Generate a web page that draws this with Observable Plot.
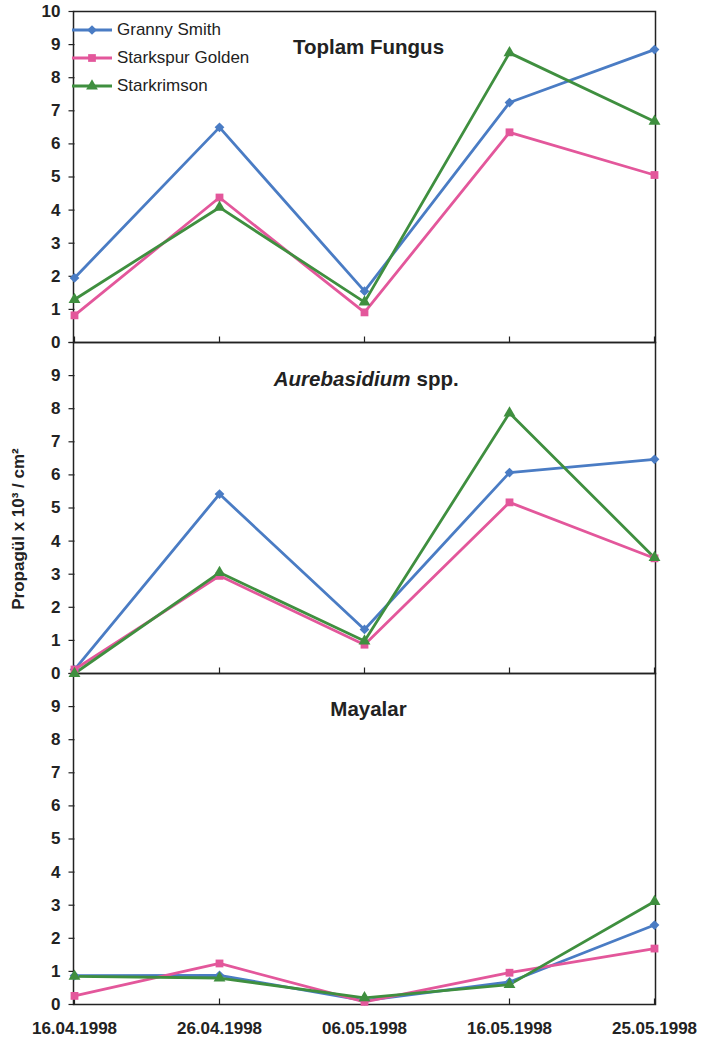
<!DOCTYPE html>
<html>
<head>
<meta charset="utf-8">
<script src="https://cdn.jsdelivr.net/npm/d3@7"></script>
<script src="https://cdn.jsdelivr.net/npm/@observablehq/plot@0.6"></script>
<style>
  body { margin: 0; background: #fff; font-family: "Liberation Sans", Arial, sans-serif; }
  #wrap { position: relative; width: 708px; height: 1042px; }
  #legend { position: absolute; left: 60px; top: 16px; font-size: 17px; color: #222; }
  #legend .row { display: flex; align-items: center; height: 28px; }
  #legend svg { display: block; margin-right: 2px; }
</style>
</head>
<body>
<div id="wrap"><div id="legend"></div></div>
<script>
// ---- data ----
const dates = ["16.04.1998", "26.04.1998", "06.05.1998", "16.05.1998", "25.05.1998"];
const cultivars = ["Granny Smith", "Starkspur Golden", "Starkrimson"];
const panels = ["Toplam Fungus", "Aurebasidium spp.", "Mayalar"];

const toplamGranny  = [1.95, 6.50, 1.55, 7.25, 8.85];
const toplamGolden  = [0.82, 4.38, 0.91, 6.35, 5.06];
const toplamKrimson = [1.30, 4.08, 1.22, 8.75, 6.68];

const aureGranny  = [0.12, 5.42, 1.33, 6.07, 6.47];
const aureGolden  = [0.12, 2.95, 0.87, 5.17, 3.48];
const aureKrimson = [0.00, 3.05, 0.98, 7.87, 3.50];

const mayaGranny  = [0.87, 0.88, 0.12, 0.68, 2.40];
const mayaGolden  = [0.26, 1.24, 0.08, 0.96, 1.69];
const mayaKrimson = [0.85, 0.80, 0.20, 0.60, 3.11];

const yTicksTop   = [0, 1, 2, 3, 4, 5, 6, 7, 8, 9, 10];
const yTicksLower = [0, 1, 2, 3, 4, 5, 6, 7, 8, 9];

// ---- styles ----
const colors = ["#4a7cc4", "#e3579b", "#3f8f3f"];
const symbolNames = ["diamond2", "square", "triangle"];
const font = "Liberation Sans, Arial, sans-serif";

// ---- tables ----
const series = [
  [toplamGranny, toplamGolden, toplamKrimson],
  [aureGranny, aureGolden, aureKrimson],
  [mayaGranny, mayaGolden, mayaKrimson]
];
const rows = [];
panels.forEach((p, pi) => cultivars.forEach((c, ci) =>
  series[pi][ci].forEach((v, di) => rows.push({panel: p, cultivar: c, date: dates[di], value: v}))));

const labelRows = [];
panels.forEach((p, pi) => (pi === 0 ? yTicksTop : yTicksLower).forEach(v => labelRows.push({panel: p, v})));
const yTickRows = panels.flatMap(p => yTicksTop.map(v => ({panel: p, v})));
const xTickRows = panels.flatMap(p => dates.map(d => ({panel: p, date: d})));
const xLabelRows = dates.map(d => ({panel: panels[2], date: d}));

const tickLeft = {draw(ctx) { ctx.moveTo(0, 0); ctx.lineTo(-6, 0); }};
const tickUp = {draw(ctx) { ctx.moveTo(0, 0); ctx.lineTo(0, -6); }};

const chart = Plot.plot({
  width: 708,
  height: 1042,
  marginTop: 10,
  marginBottom: 37,
  marginLeft: 73,
  marginRight: 53,
  style: {fontFamily: font, background: "transparent", color: "#222"},
  x: {type: "point", domain: dates, padding: 0, axis: null},
  y: {domain: [0, 10], axis: null},
  fy: {domain: panels, padding: 0, axis: null},
  color: {domain: cultivars, range: colors},
  symbol: {domain: cultivars, range: symbolNames},
  marks: [
    Plot.frame({stroke: "#222", strokeWidth: 1.5}),
    Plot.dot(yTickRows, {fy: "panel", x: () => dates[0], y: "v", symbol: tickLeft, fill: "none", stroke: "#222", strokeWidth: 1.2}),
    Plot.dot(xTickRows, {fy: "panel", x: "date", y: () => 0, symbol: tickUp, fill: "none", stroke: "#222", strokeWidth: 1.2}),
    Plot.text(labelRows, {fy: "panel", x: () => dates[0], y: "v", text: d => String(d.v), textAnchor: "end", dx: -14, fontWeight: "bold", fontSize: 17, fill: "#222"}),
    Plot.text(xLabelRows, {fy: "panel", x: "date", y: () => 0, text: "date", dy: 24, fontWeight: "bold", fontSize: 17, fill: "#222"}),
    // panel titles
    Plot.text([{panel: panels[0], t: "Toplam Fungus"}, {panel: panels[2], t: "Mayalar"}],
      {fy: "panel", x: () => dates[2], frameAnchor: "top", text: "t", dy: 28, dx: 4, fontWeight: "bold", fontSize: 20.5, fill: "#222"}),
    Plot.text([{panel: panels[1], t: "Aurebasidium"}],
      {fy: "panel", x: () => dates[2], frameAnchor: "top", text: "t", dy: 29, dx: 46, textAnchor: "end", fontWeight: "bold", fontStyle: "italic", fontSize: 20.5, fill: "#222"}),
    Plot.text([{panel: panels[1], t: "spp."}],
      {fy: "panel", x: () => dates[2], frameAnchor: "top", text: "t", dy: 29, dx: 52, textAnchor: "start", fontWeight: "bold", fontSize: 20.5, fill: "#222"}),
    // y-axis label
    Plot.text([{panel: panels[1], t: "Propagül x 10³ / cm²"}],
      {fy: "panel", frameAnchor: "left", text: "t", rotate: -90, textAnchor: "middle", dx: -55, dy: 21, fontWeight: "bold", fontSize: 17, fill: "#222"}),
    // data
    Plot.line(rows, {fy: "panel", x: "date", y: "value", z: "cultivar", stroke: "cultivar", strokeWidth: 2.8}),
    Plot.dot(rows, {fy: "panel", x: "date", y: "value", symbol: "cultivar", fill: "cultivar", r: 4.4})
  ]
});
document.getElementById("wrap").prepend(chart);

// ---- legend (inside top panel, top-left) ----
const legend = d3.select("#legend");
const sym = d3.symbol().size(60);
const symTypes = [d3.symbolDiamond2 || d3.symbolDiamond, d3.symbolSquare, d3.symbolTriangle];
cultivars.forEach((c, i) => {
  const row = legend.append("div").attr("class", "row");
  const s = row.append("svg").attr("width", 55).attr("height", 16);
  s.append("line").attr("x1", 12).attr("x2", 52).attr("y1", 8).attr("y2", 8)
    .attr("stroke", colors[i]).attr("stroke-width", 2.8);
  s.append("path").attr("transform", "translate(32,8)").attr("d", sym.type(symTypes[i])()).attr("fill", colors[i]);
  row.append("span").text(c);
});
</script>
</body>
</html>
